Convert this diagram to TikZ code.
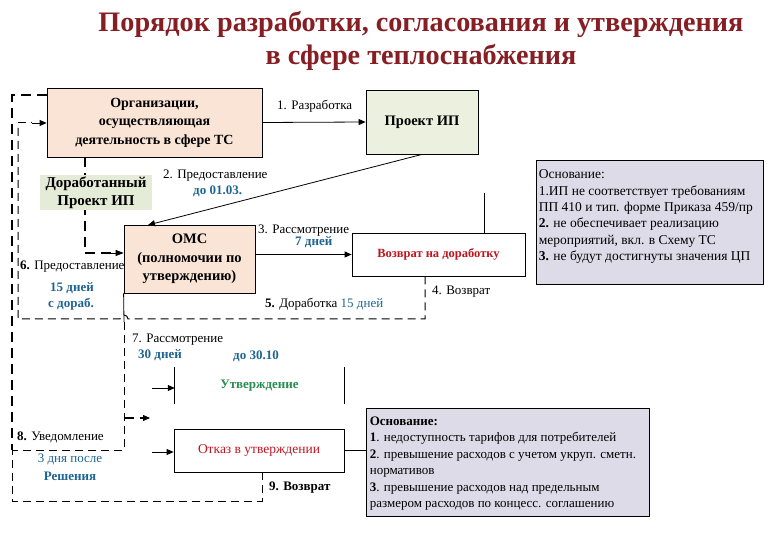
\documentclass[tikz,border=0pt]{standalone}
\usepackage{fontspec}
\setmainfont{Liberation Serif}
\usetikzlibrary{arrows.meta,calc,backgrounds}
\definecolor{peach}{RGB}{250,228,214}
\definecolor{pgreen}{RGB}{236,240,222}
\definecolor{dgreen}{RGB}{228,235,215}
\definecolor{lav}{RGB}{222,219,233}
\definecolor{tblue}{RGB}{30,100,145}
\definecolor{tred}{RGB}{190,20,30}
\definecolor{tgreen}{RGB}{40,140,80}
\definecolor{ttitle}{RGB}{135,30,35}
\newcommand\myfs[2]{\fontsize{#1}{#2}\selectfont}
\tikzset{
  box/.style={draw, line width=0.8pt, inner sep=0pt, align=center},
  lbl/.style={inner sep=0pt, font=\myfs{13}{15}},
  blue/.style={inner sep=0pt, font=\myfs{13}{15}\bfseries, text=tblue},
  solidline/.style={line width=0.8pt},
  arr/.style={line width=0.8pt, -{Triangle[length=7pt,width=6pt]}},
  thickdash/.style={line width=1.8pt, dash pattern=on 10pt off 6pt},
  thindash/.style={line width=1pt, dash pattern=on 8pt off 5pt},
}
\begin{document}
\begin{tikzpicture}[x=1pt,y=-1pt]
\useasboundingbox (0,0) rectangle (780,540);
% title
\node[inner sep=0pt, text=ttitle, font=\myfs{28.2}{33}\bfseries, align=center] (title) at (421,41)
  {Порядок разработки, согласования и утверждения\\в сфере теплоснабжения};
% boxes
\node[box, fill=peach, minimum width=215pt, minimum height=69pt, font=\myfs{14}{18.5}\bfseries] (org) at (154.5,122.5)
  {Организации,\\осуществляющая\\деятельность в сфере ТС};
\node[box, fill=pgreen, minimum width=112pt, minimum height=64pt, font=\myfs{14.5}{18}\bfseries] (proekt) at (422,122) {Проект ИП};
\node[box, fill=peach, minimum width=131pt, minimum height=68pt, font=\myfs{14.5}{18.5}\bfseries] (omc) at (189.5,259)
  {ОМС\\(полномочии по\\утверждению)};
\node[box, fill=white, minimum width=173pt, minimum height=43pt, text=tred, font=\myfs{12.5}{15}\bfseries] (vozvrat) at (438.5,254.5) {Возврат на доработку};
\node[box, fill=lav, minimum width=227pt, minimum height=124pt] (osn1) at (649.5,222) {};
\node[inner sep=0pt, minimum width=169pt, minimum height=37pt, text=tgreen, font=\myfs{13}{15}\bfseries] (utv) at (259.5,385.5) {Утверждение};
\node[box, fill=white, minimum width=170pt, minimum height=43pt, text=tred, font=\myfs{13.5}{15}] (otkaz) at (259,450.5) {Отказ в утверждении};
\node[box, fill=lav, minimum width=283pt, minimum height=108pt] (osn2) at (507.5,462) {};
\node[anchor=north west, inner sep=0pt, align=left, font=\myfs{13.5}{16.4}] (osn1t) at ($(osn1.north west)+(3,10)$)
  {Основание:\\1.ИП не соответствует требованиям\\ПП 410 и тип. форме Приказа 459/пр\\\textbf{2.} не обеспечивает реализацию\\мероприятий, вкл. в Схему ТС\\\textbf{3.} не будут достигнуты значения ЦП};
\node[anchor=north west, inner sep=0pt, align=left, font=\myfs{13}{16.4}] (osn2t) at ($(osn2.north west)+(4,9)$)
  {\textbf{Основание:}\\\textbf{1}. недоступность тарифов для потребителей\\\textbf{2}. превышение расходов с учетом укруп. сметн.\\нормативов\\\textbf{3}. превышение расходов над предельным\\размером расходов по концесс. соглашению};
% coordinates
\coordinate (c2) at (148,225);
\coordinate (c4) at (425,319);
\coordinate (c5) at (484,193);
\coordinate (c6) at (85,253);
\coordinate (j7) at (124,322);
\coordinate (u0) at (152,388);
\coordinate (o0) at (152,452);
\coordinate (n8) at (124,418);
\coordinate (n8e) at (150,418);
\coordinate (lt) at (12,95);
\coordinate (lb) at (12,450);
\coordinate (lr) at (124,450);
\coordinate (b9) at (262,501);
\coordinate (r4) at (18,123);
% connectors
\begin{scope}[on background layer]
\draw[thickdash] (c6 |- org.south) -- (c6) -- ($(c6 -| omc.west)+(-2,0)$);
\end{scope}
\draw[line width=0.8pt, -{Triangle[length=8pt,width=6pt]}] (c6 -| 110,0) -- (c6 -| omc.west);
\node[fill=dgreen, minimum width=112pt, minimum height=35pt, inner sep=0pt, align=center, font=\myfs{15}{18}\bfseries] (dorab) at (96,192.5)
  {Доработанный\\Проект ИП};
\draw[arr] (org.east) -- (proekt.west);
\draw[arr] (proekt.south) -- (c2);
\draw[arr] (omc.east |- vozvrat.west) -- (vozvrat.west);
\draw[solidline] (c5 |- vozvrat.north) -- (c5);
\draw[thindash] (c4 |- vozvrat.south) -- (c4) -- (128,319) arc (0:180:4pt) -- (18,319) -- (r4);
\draw[arr] ($(r4)+(14,0)$) -- (r4 -| org.west);
\draw[thindash] (r4) -- ($(r4)+(14,0)$);
\draw[solidline] (omc.south west) -- (j7);
\draw[thindash] (j7) -- (lr) -- (lb);
\draw[thickdash] (lt -| org.west) -- (lt) -- (lb);
\draw[thindash] (otkaz.south -| b9) -- (b9) -- (b9 -| lb) -- (lb);
\draw[thickdash, line width=1.4pt] (n8) -- ($(n8e)+(-6,0)$);
\draw[arr] ($(n8e)+(-7,0)$) -- (n8e);
\draw[arr] (u0) -- (u0 -| utv.west);
\draw[arr] (o0) -- (o0 -| otkaz.west);
\draw[solidline] (utv.north west) -- (utv.south west);
\draw[solidline] (utv.north east) -- (utv.south east);
\draw[solidline] (otkaz.east) -- (otkaz.east -| osn2.west);
% labels
\node[lbl, anchor=west] (l1) at (277,106) {1. Разработка};
\node[lbl, anchor=west] (l2) at (163,176) {2. Предоставление};
\node[blue, anchor=west] (l2b) at (193,191) {до 01.03.};
\node[lbl, anchor=west] (l3) at (258,231) {3. Рассмотрение};
\node[blue, anchor=west] (l3b) at (295,242) {7 дней};
\node[lbl, anchor=west] (l6) at (20,267) {\textbf{6.} Предоставление};
\node[blue] (l6b) at (72,288) {15 дней};
\node[blue] (l6c) at (71,304) {с дораб.};
\node[lbl, anchor=west] (l4) at (432,292) {4. Возврат};
\node[lbl, anchor=west] (l5) at (265,304) {\textbf{5.} Доработка \textcolor{tblue}{15 дней}};
\node[lbl, anchor=west] (l7) at (132,340) {7. Рассмотрение};
\node[blue, anchor=west] (l7b) at (138,355) {30 дней};
\node[blue, anchor=west] (l7c) at (233,356) {до 30.10};
\node[lbl, anchor=west] (l8) at (17,437) {\textbf{8.} Уведомление};
\node[lbl, text=tblue] (l8b) at (70,459) {3 дня после};
\node[blue] (l8c) at (70,476) {Решения};
\node[lbl, anchor=west, font=\myfs{13}{15}\bfseries] (l9) at (269,488) {9. Возврат};
\end{tikzpicture}
\end{document}
